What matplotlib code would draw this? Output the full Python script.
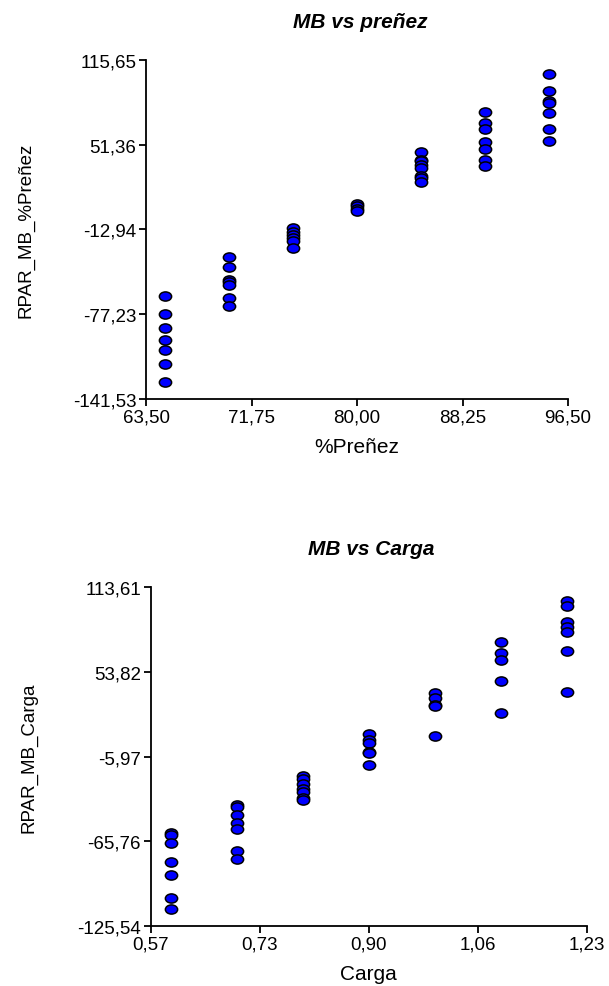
import numpy as np
import matplotlib
matplotlib.use('Agg')
import matplotlib.pyplot as plt
from matplotlib.path import Path

plt.rcParams['font.family'] = ['Liberation Sans', 'DejaVu Sans']

# Datos: MB vs preñez
prenez = [65, 70, 75, 80, 85, 90, 95]
mb_prenez = [
    [-63.7, -77.4, -88.3, -97.2, -104.5, -115.4, -128.8],
    [-34.3, -41.9, -51.3, -52.8, -55.3, -65.0, -71.1],
    [-12.0, -14.8, -17.4, -19.9, -22.1, -27.0],
    [6.2, 4.5, 2.4, 1.1],
    [46.0, 39.9, 38.7, 35.9, 33.8, 27.7, 26.2, 22.7],
    [76.4, 68.0, 63.0, 53.1, 48.0, 39.9, 34.9],
    [104.8, 92.3, 84.2, 82.7, 75.4, 63.0, 54.3],
]
xt_prenez = [63.50, 71.75, 80.00, 88.25, 96.50]
xl_prenez = ['63,50', '71,75', '80,00', '88,25', '96,50']
yt_prenez = [-141.53, -77.23, -12.94, 51.36, 115.65]
yl_prenez = ['-141,53', '-77,23', '-12,94', '51,36', '115,65']

# Datos: MB vs Carga
carga = [0.6, 0.7, 0.8, 0.9, 1.0, 1.1, 1.2]
mb_carga = [
    [-60.2, -61.7, -66.9, -80.5, -89.5, -105.8, -113.5],
    [-40.0, -41.9, -47.3, -53.0, -57.2, -72.5, -78.2],
    [-19.5, -21.9, -25.6, -28.9, -31.3, -35.5, -36.9],
    [10.1, 5.7, 3.8, -2.6, -3.7, -11.8],
    [38.7, 35.2, 30.4, 29.5, 8.7],
    [75.2, 67.4, 62.4, 47.6, 24.8],
    [103.9, 100.6, 88.9, 85.3, 82.2, 68.4, 39.6],
]
xt_carga = [0.57, 0.735, 0.90, 1.065, 1.23]
xl_carga = ['0,57', '0,73', '0,90', '1,06', '1,23']
yt_carga = [-125.54, -65.76, -5.97, 53.82, 113.61]
yl_carga = ['-125,54', '-65,76', '-5,97', '53,82', '113,61']

# marcador eliptico (el original esta estirado en horizontal)
circ = Path.unit_circle()
elipse = Path(circ.vertices * np.array([1.0, 0.75]), circ.codes)

W, H = 609, 987
fig = plt.figure(figsize=(W / 100, H / 100), dpi=100)


def px_axes(left, right, top, bottom):
    return fig.add_axes([left / W, 1 - bottom / H, (right - left) / W, (bottom - top) / H])


def panel(ax, xs, groups, xt, xl, yt, yl, xlabel, ylabel):
    for x, vals in zip(xs, groups):
        ax.plot([x] * len(vals), vals, linestyle='none', marker=elipse,
                markersize=8.8, markerfacecolor='#0000FF', markeredgecolor='black',
                markeredgewidth=1.1, clip_on=False, zorder=3)
    ax.set_xlim(xt[0], xt[-1])
    ax.set_ylim(yt[0], yt[-1])
    ax.set_xticks(xt)
    ax.set_xticklabels(xl)
    ax.set_yticks(yt)
    ax.set_yticklabels(yl)
    for s in ['top', 'right']:
        ax.spines[s].set_visible(False)
    for s in ['left', 'bottom']:
        ax.spines[s].set_linewidth(1.3)
    ax.tick_params(direction='out', length=5, width=1.3, labelsize=13.5, pad=2)
    ax.set_xlabel(xlabel, fontsize=15)
    ax.set_ylabel(ylabel, fontsize=13.5)


ax1 = px_axes(146, 568, 61, 399.5)
panel(ax1, prenez, mb_prenez, xt_prenez, xl_prenez, yt_prenez, yl_prenez,
      '%Preñez', 'RPAR_MB_%Preñez')
ax1.xaxis.set_label_coords(0.5, -0.115)
ax1.yaxis.set_label_coords(-0.265, 0.5)

ax2 = px_axes(150.7, 586.7, 588.3, 926.7)
panel(ax2, carga, mb_carga, xt_carga, xl_carga, yt_carga, yl_carga,
      'Carga', 'RPAR_MB_Carga')
ax2.xaxis.set_label_coords(0.5, -0.113)
ax2.yaxis.set_label_coords(-0.26, 0.5)

fig.text(360 / W, 1 - 22 / H, 'MB vs preñez', ha='center', va='center',
         fontsize=15, fontweight='bold', fontstyle='italic')
fig.text(371 / W, 1 - 550 / H, 'MB vs Carga', ha='center', va='center',
         fontsize=15, fontweight='bold', fontstyle='italic')

fig.savefig('out.png', dpi=100, facecolor='white')
